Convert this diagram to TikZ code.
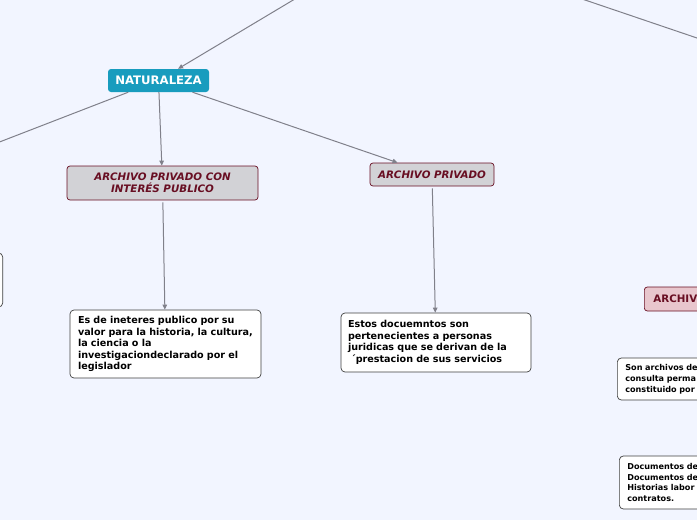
\documentclass[tikz,border=0pt]{standalone}
\usepackage{fontspec}
\setmainfont{DejaVu Sans}
\usepackage{xcolor}
\usepackage{tikz}
\usetikzlibrary{arrows.meta, positioning}

\definecolor{bgblue}{RGB}{242,245,255}
\definecolor{natteal}{RGB}{24,156,190}
\definecolor{wine}{RGB}{104,14,34}
\definecolor{boxgray}{RGB}{210,210,214}
\definecolor{boxpink}{RGB}{232,198,205}
\definecolor{linegray}{RGB}{128,128,138}

\begin{document}
\begin{tikzpicture}[x=1pt, y=-1pt,
    main/.style={rectangle, rounded corners=3pt, fill=natteal, text=white,
                minimum width=101pt, minimum height=23pt, inner sep=0pt,
                font=\fontsize{11.7}{13}\selectfont\bfseries},
    sub/.style={rectangle, rounded corners=3pt, draw=wine, fill=boxgray, text=wine,
                inner sep=0pt, align=center, line width=0.7pt,
                font=\fontsize{10.3}{12}\selectfont\bfseries\itshape},
    subp/.style={sub, fill=boxpink, font=\fontsize{10.3}{12}\selectfont\bfseries},
    txt/.style={rectangle, rounded corners=4pt, draw=black!75, fill=white,
                inner sep=0pt, align=left, line width=0.7pt,
                font=\fontsize{9.6}{11.5}\selectfont\bfseries},
    txts/.style={txt, font=\fontsize{8.1}{10.8}\selectfont\bfseries},
    arr/.style={-{Triangle[length=5pt, width=4.5pt]}, line width=1pt, linegray},
    lin/.style={line width=1pt, linegray}]

    \useasboundingbox (0,0) rectangle (697,520);
    \fill[bgblue] (0,0) rectangle (697,520);
    \clip (0,0) rectangle (697,520);

    \coordinate (top) at (330,-22);
    \coordinate (pub) at (-60,165);
    \coordinate (rA) at (560,-8.5);
    \coordinate (rB) at (740,52.6);

    \node[main] (nat) at (158.5,80.5) {NATURALEZA};
    \node[sub, minimum width=191pt, minimum height=34pt] (apip) at (162.5,183)
        {ARCHIVO PRIVADO CON\\INTERÉS PUBLICO};
    \node[sub, minimum width=124pt, minimum height=23pt] (ap) at (432,174.5)
        {ARCHIVO PRIVADO};

    \node[txt, minimum width=191pt, minimum height=68pt, text width=175pt] (t1) at (165.5,344)
        {Es de ineteres publico por su\\valor para la historia, la cultura,\\la ciencia o la\\investigaciondeclarado por el\\legislador};
    \node[txt, minimum width=190pt, minimum height=59pt, text width=176pt] (t2) at (436,342.5)
        {Estos docuemntos son\\pertenecientes a personas\\juridicas que se derivan de la\\\hspace*{3pt}´prestacion de sus servicios};

    % cortados en el borde
    \node[txt, minimum width=150pt, minimum height=54pt, anchor=east] (tl) at (3,280) {};
    \node[subp, minimum width=150pt, minimum height=24pt, anchor=west,
          text width=132pt, align=left] (apub) at (644,299) {ARCHIV};
    \node[txts, minimum width=150pt, minimum height=42pt, anchor=west,
          text width=134pt] (t3) at (617,379)
        {Son archivos de\\consulta perma\\constituido por};
    \node[txts, minimum width=150pt, minimum height=53pt, anchor=west,
          text width=134pt] (t4) at (619,482.5)
        {Documentos de\\Documentos de\\Historias labor\\contratos.};

    \draw[arr] (top) -- (nat);
    \draw[lin] (nat) -- (pub);
    \draw[arr] (nat) -- (apip);
    \draw[arr] (nat) -- (ap);
    \draw[arr, shorten <=2pt] (apip) -- (t1);
    \draw[arr, shorten <=2pt] (ap) -- (t2);
    \draw[lin] (rA) -- (rB);
  \end{tikzpicture}
\end{document}
